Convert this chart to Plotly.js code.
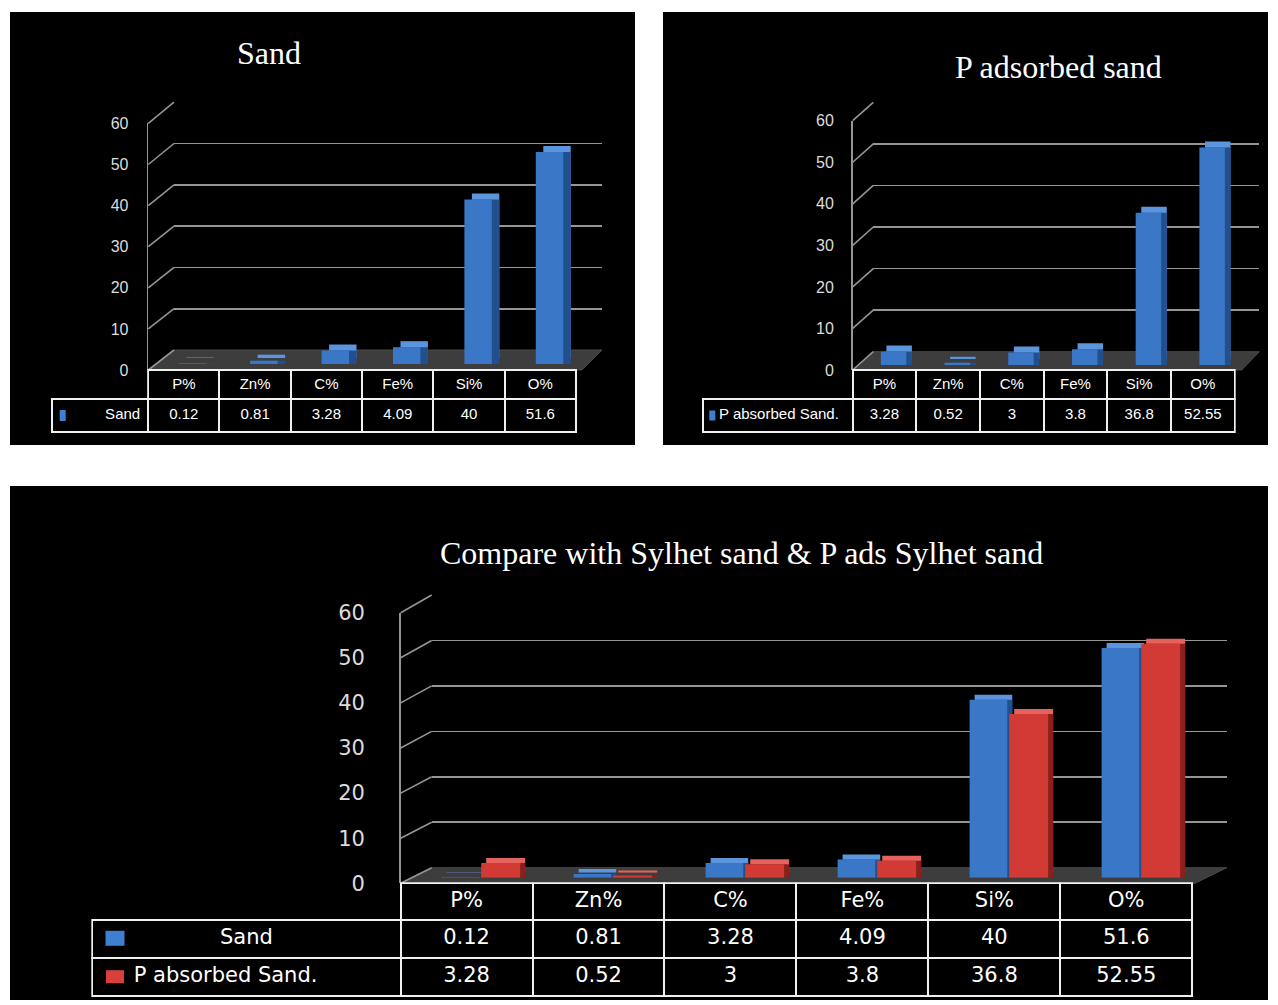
<!DOCTYPE html>
<html>
<head>
<meta charset="utf-8">
<script src="https://cdn.plot.ly/plotly-3.0.1.min.js"></script>
<style>html,body{margin:0;padding:0;background:#ffffff;}</style>
</head>
<body>
<div id="chart" style="width:1278px;height:1005px;"></div>
<script>
// ---------------- data ----------------
const categories = ['P%', 'Zn%', 'C%', 'Fe%', 'Si%', 'O%'];
const sandValues = [0.12, 0.81, 3.28, 4.09, 40, 51.6];
const pSandValues = [3.28, 0.52, 3, 3.8, 36.8, 52.55];
const yTicks = [0, 10, 20, 30, 40, 50, 60];
const sandName = 'Sand';
const pSandName = 'P absorbed Sand.';
const titles = ['Sand', 'P adsorbed sand', 'Compare with Sylhet sand & P ads Sylhet sand'];

// ---------------- styles / geometry ----------------
const W = 1278, H = 1005;
const px = x => x / W;
const py = y => 1 - y / H;
const axisId = i => (i === 1 ? '' : String(i));
const yMax = yTicks[yTicks.length - 1];

const NARROW = '"Liberation Sans", Arial, sans-serif';
const WIDE = '"DejaVu Sans", Verdana, sans-serif';
const SERIF = '"Liberation Serif", "Times New Roman", serif';
const GRID = '#959595';
const TABLE_LINE = '#f0f0f0';
const TICK_COLOR = '#dcdcdc';
const CLEAR = 'rgba(0,0,0,0)';
const BLUE = {face: '#3b77c7', side: '#21508f', top: '#5b95de', icon: '#3d7fd0'};
const RED = {face: '#d23a35', side: '#8a201d', top: '#e6625c', icon: '#d9403b'};
const NB = '\u00a0';

const panelRects = [
  {x0: 10, y0: 12, x1: 635, y1: 445},
  {x0: 663, y0: 12, x1: 1268, y1: 445},
  {x0: 10, y0: 486, x1: 1268, y1: 1000}
];

const panels = [
  {
    title: titles[0], titleX: 268.5, titleY: 53,
    front: {xL: 148.3, xR: 576.7, y0: 370, ppu: 4.11},
    back: {xL: 174, xR: 602, y0: 350, ppu: 4.13},
    bar: {dx: 8.5, y0: 364, ppu: 4.11}, ext: {ex: 7.5, ey: 6}, floorFR: 582,
    table: {left: 52, top: 370, headerH: 29.3, rowH: 32.4},
    tickLen: 15, font: NARROW, fontSize: 15, tickSize: 16,
    series: [{name: sandName, values: sandValues, color: BLUE, offset: -0.192, width: 0.384}],
    labelAlign: ['right'], labelPrefix: [''],
    icons: [{cx: 62.7, cy: 415.5, w: 6, h: 11, color: BLUE.icon}]
  },
  {
    title: titles[1], titleX: 1058, titleY: 67.5,
    front: {xL: 852.7, xR: 1235, y0: 370, ppu: 4.155},
    back: {xL: 873.3, xR: 1259.3, y0: 351.7, ppu: 4.157},
    bar: {dx: 9, y0: 365, ppu: 4.14}, ext: {ex: 5.6, ey: 6}, floorFR: 1241.7,
    table: {left: 702.7, top: 370, headerH: 29.3, rowH: 32.4},
    tickLen: 14, font: NARROW, fontSize: 15, tickSize: 16,
    series: [{name: pSandName, values: pSandValues, color: BLUE, offset: -0.2, width: 0.4}],
    labelAlign: ['left'], labelPrefix: [NB + NB],
    icons: [{cx: 712.3, cy: 415.5, w: 6, h: 10, color: BLUE.icon}]
  },
  {
    title: titles[2], titleX: 741.3, titleY: 552.5,
    front: {xL: 400.7, xR: 1192.7, y0: 883.3, ppu: 4.51},
    back: {xL: 431.7, xR: 1226.7, y0: 867.7, ppu: 4.545},
    bar: {dx: 14.5, y0: 877.7, ppu: 4.45}, ext: {ex: 5, ey: 5}, floorFR: 1195,
    table: {left: 92.3, top: 883.3, headerH: 37, rowH: 38},
    tickLen: 30, font: WIDE, fontSize: 21, tickSize: 21,
    series: [
      {name: sandName, values: sandValues, color: BLUE, offset: -0.30, width: 0.285},
      {name: pSandName, values: pSandValues, color: RED, offset: 0.0, width: 0.295}
    ],
    labelAlign: ['center', 'left'], labelPrefix: ['', NB + NB + NB + NB + NB],
    icons: [
      {cx: 115, cy: 938.3, w: 19, h: 15, color: BLUE.icon},
      {cx: 115, cy: 976.7, w: 18, h: 13, color: RED.icon}
    ]
  }
];

const data = [];
const layout = {
  width: W, height: H, autosize: false,
  margin: {l: 0, r: 0, t: 0, b: 0, pad: 0},
  paper_bgcolor: '#ffffff', plot_bgcolor: CLEAR,
  showlegend: false, barmode: 'overlay',
  shapes: [], annotations: []
};

panelRects.forEach(r => layout.shapes.push({
  type: 'rect', xref: 'paper', yref: 'paper', layer: 'below',
  x0: px(r.x0), x1: px(r.x1), y0: py(r.y1), y1: py(r.y0),
  fillcolor: '#000000', line: {width: 0}
}));

const catAx = (xL, xR, anchor) => ({
  domain: [px(xL), px(xR)], range: [-0.5, categories.length - 0.5],
  type: 'category', categoryorder: 'array', categoryarray: categories,
  visible: false, fixedrange: true, anchor: anchor
});
const valAx = (y0, ppu, anchor) => ({
  domain: [py(y0), py(y0 - yMax * ppu)], range: [0, yMax],
  visible: false, fixedrange: true, anchor: anchor
});

panels.forEach((p, k) => {
  const b = 4 * k;
  const iBack = b + 1, iFront = b + 2, iShift = b + 3, iBar = b + 4;
  const f = p.front, bk = p.back, br = p.bar, e = p.ext;
  const X = i => 'x' + axisId(i), Y = i => 'y' + axisId(i);

  layout['xaxis' + axisId(iBack)] = catAx(bk.xL, bk.xR, Y(iBack));
  layout['xaxis' + axisId(iFront)] = catAx(f.xL, f.xR, Y(iFront));
  layout['xaxis' + axisId(iShift)] = catAx(f.xL + br.dx + e.ex, f.xR + br.dx + e.ex, Y(iShift));
  layout['xaxis' + axisId(iBar)] = catAx(f.xL + br.dx, f.xR + br.dx, Y(iBar));

  layout['yaxis' + axisId(iBack)] = {
    domain: [py(bk.y0), py(bk.y0 - yMax * bk.ppu)], range: [0, yMax], anchor: X(iBack),
    showgrid: true, gridcolor: GRID, gridwidth: 1.6, tickvals: yTicks.slice(1),
    showticklabels: false, ticks: '', zeroline: false, showline: false, fixedrange: true
  };
  layout['yaxis' + axisId(iFront)] = {
    domain: [py(f.y0), py(f.y0 - yMax * f.ppu)], range: [0, yMax], anchor: X(iFront),
    showgrid: false, zeroline: false, showline: true, linecolor: GRID, linewidth: 1.6,
    tickvals: yTicks, ticktext: yTicks.map(String), ticks: 'outside', ticklen: p.tickLen,
    tickcolor: CLEAR, tickfont: {family: p.font, size: p.tickSize, color: TICK_COLOR},
    fixedrange: true
  };
  layout['yaxis' + axisId(iShift)] = valAx(br.y0 - e.ey, br.ppu, X(iShift));
  layout['yaxis' + axisId(iBar)] = valAx(br.y0, br.ppu, X(iBar));

  // hosting traces for the wall axes
  [iBack, iFront].forEach(i => data.push({
    type: 'scatter', x: categories, y: categories.map(() => null),
    xaxis: X(i), yaxis: Y(i), mode: 'lines', hoverinfo: 'skip', showlegend: false
  }));

  // 3D-looking bars: top copy, side copy, front face
  p.series.forEach(s => data.push({
    type: 'bar', name: s.name, x: categories, y: s.values, xaxis: X(iShift), yaxis: Y(iShift),
    offset: s.offset, width: s.width, marker: {color: s.color.top, line: {width: 0}},
    hoverinfo: 'skip', showlegend: false
  }));
  p.series.forEach(s => data.push({
    type: 'bar', name: s.name, x: categories, y: s.values, xaxis: X(iShift), yaxis: Y(iBar),
    offset: s.offset, width: s.width, marker: {color: s.color.side, line: {width: 0}},
    hoverinfo: 'skip', showlegend: false
  }));
  p.series.forEach(s => data.push({
    type: 'bar', name: s.name, x: categories, y: s.values, xaxis: X(iBar), yaxis: Y(iBar),
    offset: s.offset, width: s.width, marker: {color: s.color.face, line: {width: 0}},
    hoverinfo: 'skip', showlegend: false
  }));

  // floor
  const fl = [[f.xL, f.y0], [p.floorFR, f.y0], [bk.xR, bk.y0], [bk.xL, bk.y0]];
  layout.shapes.push({
    type: 'path', xref: 'paper', yref: 'paper', layer: 'below',
    path: 'M' + fl.map(q => px(q[0]) + ',' + py(q[1])).join(' L') + ' Z',
    fillcolor: '#3d3d3d', line: {color: '#4a4a4a', width: 1}
  });
  // side wall diagonals
  yTicks.forEach(v => layout.shapes.push({
    type: 'line', xref: 'paper', yref: 'paper', layer: 'below',
    x0: px(f.xL), y0: py(f.y0 - v * f.ppu), x1: px(bk.xL), y1: py(bk.y0 - v * bk.ppu),
    line: {color: GRID, width: 1.6}
  }));

  // data table
  const colW = (f.xR - f.xL) / categories.length;
  const labelW = f.xL - p.table.left;
  const tBottom = p.table.top + p.table.headerH + p.series.length * p.table.rowH + 6;
  data.push({
    type: 'table',
    domain: {x: [px(p.table.left), px(f.xR)], y: [py(tBottom), py(p.table.top)]},
    columnwidth: [labelW].concat(categories.map(() => colW)),
    header: {
      values: [''].concat(categories), height: p.table.headerH, align: 'center',
      fill: {color: [CLEAR].concat(categories.map(() => '#000000'))},
      line: {color: [CLEAR].concat(categories.map(() => TABLE_LINE)), width: 2},
      font: {family: p.font, size: p.fontSize, color: '#ffffff'}
    },
    cells: {
      values: [p.series.map((s, i) => p.labelPrefix[i] + s.name)]
        .concat(categories.map((c, ci) => p.series.map(s => String(s.values[ci])))),
      height: p.table.rowH,
      align: [p.labelAlign].concat(categories.map(() => 'center')),
      fill: {color: '#000000'},
      line: {color: TABLE_LINE, width: 2},
      font: {family: p.font, size: p.fontSize, color: '#ffffff'}
    }
  });

  // legend keys
  p.icons.forEach(ic => layout.shapes.push({
    type: 'rect', xref: 'paper', yref: 'paper', layer: 'above',
    x0: px(ic.cx - ic.w / 2), x1: px(ic.cx + ic.w / 2),
    y0: py(ic.cy + ic.h / 2), y1: py(ic.cy - ic.h / 2),
    fillcolor: ic.color, line: {width: 0}
  }));

  // title
  layout.annotations.push({
    xref: 'paper', yref: 'paper', x: px(p.titleX), y: py(p.titleY),
    xanchor: 'center', yanchor: 'middle', showarrow: false, text: p.title,
    font: {family: SERIF, size: 32, color: '#ffffff'}
  });
});

Plotly.newPlot('chart', data, layout, {staticPlot: true, displayModeBar: false});
</script>
</body>
</html>
